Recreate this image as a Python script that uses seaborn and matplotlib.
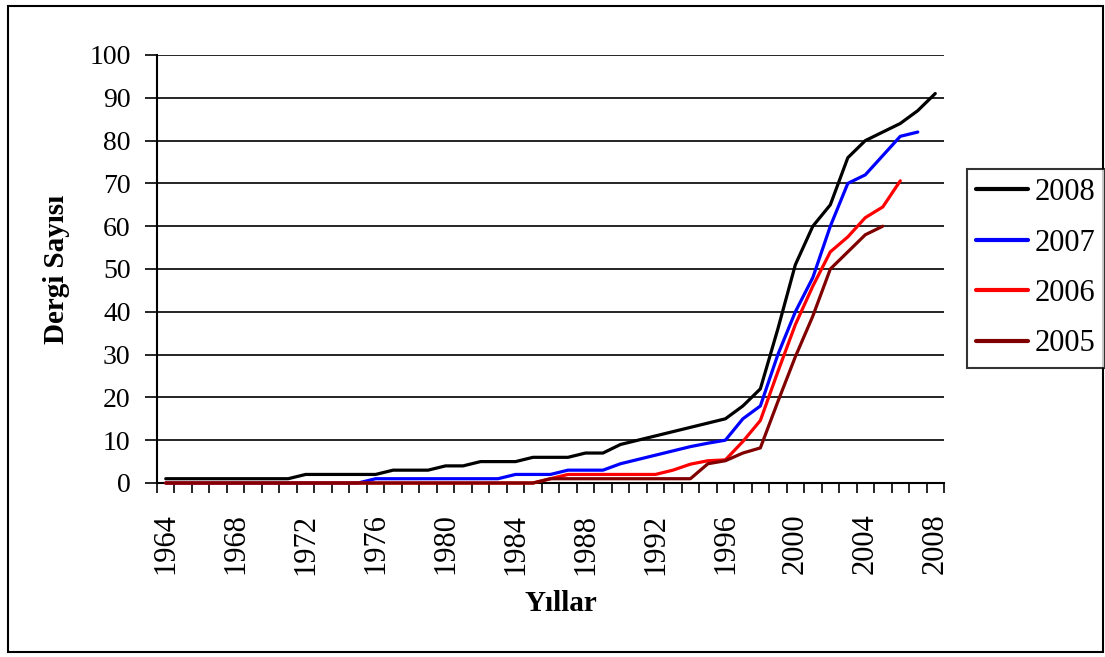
import numpy as np
import pandas as pd
import seaborn as sns
import matplotlib.pyplot as plt
from matplotlib.patches import Rectangle
from matplotlib.ticker import MultipleLocator

# veri: yillara gore kumulatif dergi sayisi
years_2008 = list(range(1964, 2009))
vals_2008 = [1, 1, 1, 1, 1, 1, 1, 1, 2, 2, 2, 2, 2, 3, 3, 3, 4, 4, 5, 5, 5, 6, 6, 6, 7, 7,
             9, 10, 11, 12, 13, 14, 15, 18, 22, 36, 51, 60, 65, 76, 80, 82, 84, 87, 91]

years_2007 = list(range(1964, 2008))
vals_2007 = [0] * 12 + [1] * 8 + [2] * 3 + [3] * 3 + \
            [4.5, 5.5, 6.5, 7.5, 8.5, 9.3, 10, 15, 18, 30, 40, 48, 60, 70, 72, 76.5, 81, 82]

years_2006 = list(range(1964, 2007))
vals_2006 = [0] * 22 + [1] + [2] * 6 + \
            [3, 4.4, 5.2, 5.4, 9.7, 14.6, 26, 37, 46, 54, 57.5, 62, 64.5, 70.6]

years_2005 = list(range(1964, 2006))
vals_2005 = [0] * 22 + [1] * 9 + [4.5, 5.2, 7, 8.2, 19, 29.5, 39, 50, 54, 58, 60]

series_names = ['2008', '2007', '2006', '2005']
colors = {'2008': '#000000', '2007': '#0000FF', '2006': '#FF0000', '2005': '#800000'}

frames = []
for name, yrs, vals in [('2008', years_2008, vals_2008), ('2007', years_2007, vals_2007),
                        ('2006', years_2006, vals_2006), ('2005', years_2005, vals_2005)]:
    frames.append(pd.DataFrame({'Yıl': yrs, 'Dergi': vals, 'Seri': name}))
df = pd.concat(frames, ignore_index=True)

sns.set_style("white")
plt.rcParams['font.family'] = ['Liberation Serif', 'DejaVu Serif']
plt.rcParams['text.color'] = 'black'
plt.rcParams['xtick.color'] = 'black'
plt.rcParams['ytick.color'] = 'black'
plt.rcParams['axes.labelcolor'] = 'black'

fig = plt.figure(figsize=(11.05, 6.57), dpi=100)
ax = fig.add_axes([157 / 1105, 1 - 483 / 657, 787 / 1105, 428 / 657])

sns.lineplot(data=df, x='Yıl', y='Dergi', hue='Seri', hue_order=series_names,
             palette=colors, linewidth=2.3, ax=ax, legend=True)
for line in ax.lines:
    line.set_zorder(3)
    line.set_clip_on(False)

ax.set_xlim(1963.5, 2008.5)
ax.set_ylim(0, 100)
ax.yaxis.set_major_locator(MultipleLocator(10))
ax.grid(axis='y', color='black', linewidth=1.2)
ax.set_axisbelow(True)

ax.set_xticks(range(1964, 2009, 4))
ax.set_xticks(np.arange(1963.5, 2009, 1), minor=True)
ax.tick_params(axis='x', which='major', length=0, pad=22, labelsize=22, labelrotation=90)
ax.tick_params(axis='x', which='minor', length=7, width=1.2, color='black', direction='out')
ax.tick_params(axis='y', length=9, width=1.2, color='black', direction='out', pad=10,
               labelsize=20)
ax.xaxis.set_ticks_position('bottom')
ax.yaxis.set_ticks_position('left')

for side in ['top', 'right']:
    ax.spines[side].set_visible(False)
for side in ['left', 'bottom']:
    ax.spines[side].set_color('black')
    ax.spines[side].set_linewidth(1.5)

ax.set_xlabel('Yıllar', fontsize=21, fontweight='bold')
ax.set_ylabel('Dergi Sayısı', fontsize=21, fontweight='bold')
ax.xaxis.set_label_coords(0.513, -0.25)
ax.yaxis.set_label_coords(-0.11, 0.5)

ax.legend_.remove()
handles, labels = ax.get_legend_handles_labels()
leg = fig.legend(handles, labels, loc='upper left',
                 bbox_to_anchor=(967 / 1105, 1 - 169 / 657),
                 fontsize=22, frameon=True, fancybox=False, edgecolor='black',
                 handlelength=1.7, handletextpad=0.22, borderpad=0.3,
                 labelspacing=0.7, borderaxespad=0)
leg.get_frame().set_linewidth(1.5)
for line in leg.get_lines():
    line.set_linewidth(3)

# dis cerceve
fig.patches.append(Rectangle((8 / 1105, 5 / 657), 1095 / 1105, 646 / 657,
                             transform=fig.transFigure, fill=False,
                             edgecolor='black', linewidth=1.5))

fig.savefig('out.png', dpi=100)
